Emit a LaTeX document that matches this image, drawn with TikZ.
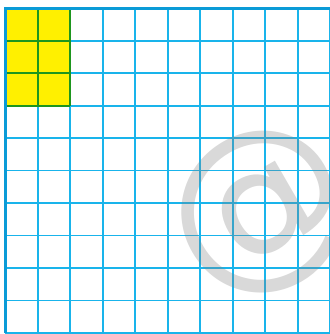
\documentclass[tikz,border=0pt]{standalone}
\usepackage{fontspec}
\setmainfont{DejaVu Sans}
\usetikzlibrary{positioning}

\definecolor{gridblue}{RGB}{25,180,235}
\definecolor{edgeblue}{RGB}{10,155,215}
\definecolor{cellgreen}{RGB}{30,150,30}
\definecolor{cellyellow}{RGB}{255,240,0}

\begin{document}
\begin{tikzpicture}[
    gridline/.style={draw=gridblue, line width=1.6pt},
    edgeline/.style={draw=edgeblue, line width=2.8pt},
    greenline/.style={draw=cellgreen, line width=1.6pt},
    stamp/.style={text=gray, opacity=0.3, font=\fontsize{160}{160}\selectfont, rotate=30}
]
    \useasboundingbox (-0.16,-0.03) rectangle (9.99,10.25);

    % shaded cells (2 x 3)
    \fill[cellyellow] (0,7) rectangle (2,10);

    % grid
    \foreach \i in {1,...,10} {
        \draw[gridline] (\i,0) -- (\i,10);
        \draw[gridline] (0,\i-1) -- (10,\i-1);
    }
    \foreach \i in {0,1,2} \draw[greenline] (\i,7) -- (\i,10);
    \foreach \j in {7,8,9,10} \draw[greenline] (0,\j) -- (2,\j);

    % outer edges
    \draw[edgeline] (0,0) -- (0,10) -- (10,10);

    % watermark
    \node[stamp] (mark) at (7.9,3.7) {@};
\end{tikzpicture}
\end{document}
